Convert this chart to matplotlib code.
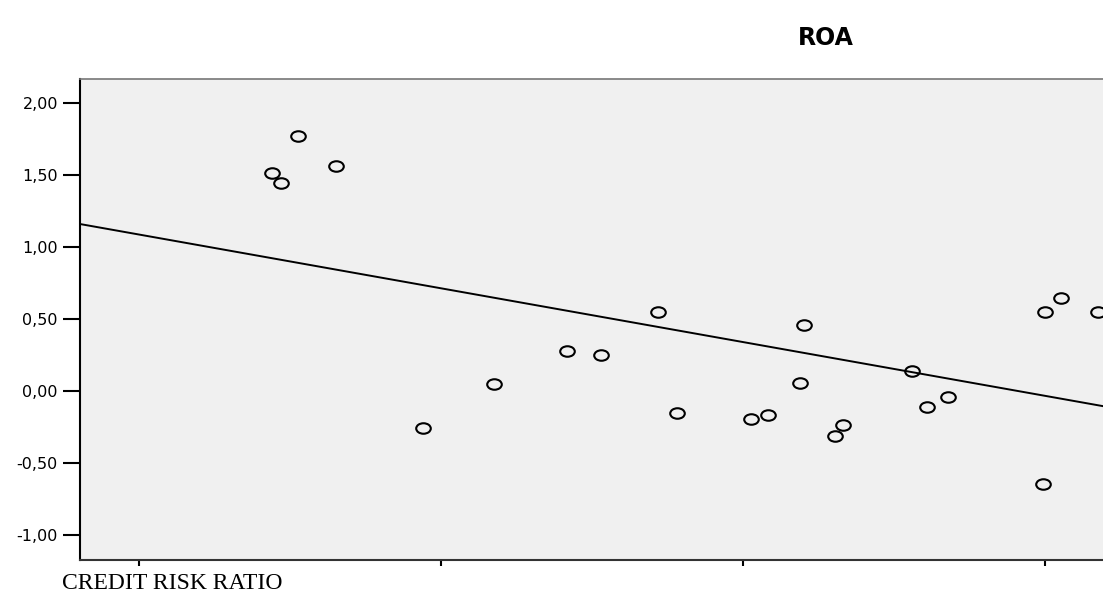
import matplotlib
matplotlib.use("Agg")
import matplotlib.pyplot as plt
from matplotlib.path import Path
import numpy as np

# Data (credit risk ratio vs ROA)
credit_risk = [1.440, 1.470, 1.527, 1.651, 1.939, 2.175, 2.417, 2.529, 2.718, 2.781,
               3.026, 3.084, 3.190, 3.201, 3.305, 3.331, 3.560, 3.609, 3.679, 3.993,
               4.000, 4.053, 4.175]
roa = [1.510, 1.441, 1.771, 1.561, -0.255, 0.046, 0.277, 0.247, 0.545, -0.155,
       -0.195, -0.165, 0.057, 0.457, -0.313, -0.235, 0.138, -0.112, -0.042, -0.646,
       0.548, 0.645, 0.548]
fit_intercept = 1.458
fit_slope = -0.373

y_ticks = [-1.0, -0.5, 0.0, 0.5, 1.0, 1.5, 2.0]
y_tick_labels = ["-1,00", "-0,50", "0,00", "0,50", "1,00", "1,50", "2,00"]
x_ticks = [1, 2, 3, 4]

W, H = 1103, 594
fig = plt.figure(figsize=(W / 100, H / 100), dpi=100)
left, right, top, bottom = 79.5, 1103, 79, 560
ax = fig.add_axes([left / W, 1 - bottom / H, (right - left) / W, (bottom - top) / H])
ax.set_facecolor("#F0F0F0")

# elliptical open marker
circ = Path.unit_circle()
verts = circ.vertices.copy()
verts[:, 1] *= 0.72
ell = Path(verts, circ.codes)

ax.plot(credit_risk, roa, linestyle="none", marker=ell, markersize=10.5,
        markerfacecolor="none", markeredgecolor="black", markeredgewidth=1.5, zorder=3)
ax.axline((0, fit_intercept), slope=fit_slope, color="black", linewidth=1.4, zorder=2)

ax.set_xlim(0.803, 4.192)
ax.set_ylim(-1.173, 2.164)
ax.set_yticks(y_ticks)
ax.set_yticklabels(y_tick_labels, fontfamily="DejaVu Sans", fontsize=11.5)
ax.set_xticks(x_ticks)
ax.set_xticklabels([])
ax.tick_params(axis="y", length=12, width=1.5, pad=3.5, color="black")
ax.tick_params(axis="x", length=4.5, width=1.5, color="black")

ax.spines["left"].set_color("black")
ax.spines["left"].set_linewidth(1.5)
ax.spines["bottom"].set_color("#333333")
ax.spines["bottom"].set_linewidth(1.5)
ax.spines["top"].set_color("#777777")
ax.spines["top"].set_linewidth(1.2)
ax.spines["right"].set_visible(False)

fig.text(826 / W, 1 - 38 / H, "ROA", ha="center", va="center",
         fontfamily="DejaVu Sans", fontweight="bold", fontsize=17)
fig.text(62 / W, 1 - 589 / H, "CREDIT RISK RATIO", ha="left", va="baseline",
         fontfamily="Liberation Serif", fontsize=17)

fig.savefig("out.png", dpi=100)
